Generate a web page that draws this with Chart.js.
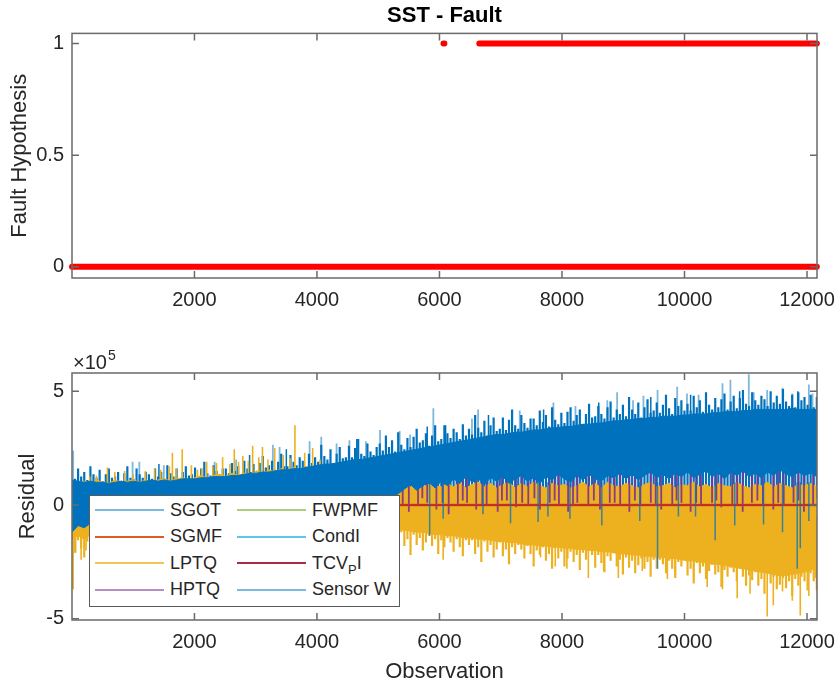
<!DOCTYPE html>
<html>
<head>
<meta charset="utf-8">
<title>SST - Fault</title>
<script src="https://cdn.jsdelivr.net/npm/chart.js@4.4.1/dist/chart.umd.min.js"></script>
<style>
  body { margin: 0; background: #fff; }
  #page { position: relative; width: 839px; height: 690px; font-family: "Liberation Sans", Arial, sans-serif; }
  #faultChart { position: absolute; left: 0; top: 0; }
  #residualChart { position: absolute; left: 0; top: 320px; }
  #legend { position: absolute; left: 89px; top: 495px; width: 311px; height: 112px; background: #fff;
            border: 1.5px solid #5a5a5a; box-sizing: border-box; }
  .item { position: absolute; height: 26px; display: flex; align-items: center; font-size: 18px; color: #262626; white-space: nowrap; }
  .swatch { width: 69px; height: 2px; margin-right: 6px; }
  .item sub { font-size: 13px; vertical-align: -5px; line-height: 0; }
</style>
</head>
<body>
<div id="page">
  <canvas id="faultChart" width="839" height="320"></canvas>
  <canvas id="residualChart" width="839" height="370"></canvas>
  <div id="legend"></div>
</div>
<script>
const xTicks = [2000, 4000, 6000, 8000, 10000, 12000];
const faultTicks = [0, 0.5, 1];
const residualTicks = [-5, 0, 5];
const residualExponent = 5;
const lastObs = 12160;

// fault hypothesis, as runs of constant value
const faultRunStart = [1, 6065, 6650];
const faultRunEnd = [12160, 6080, 12160];
const faultRunValue = [0, 1, 1];

const seriesNames = ['SGOT', 'SGMF', 'LPTQ', 'HPTQ', 'FWPMF', 'CondI', 'TCV_PI', 'Sensor W'];
const seriesColors = ['#0072BD', '#D95319', '#EDB120', '#7E2F8E', '#77AC30', '#4DBEEE', '#A2142F', '#0072BD'];
const legendAlpha = [0.5, 0.95, 0.75, 0.55, 0.6, 0.9, 0.9, 0.5];

// residuals in units of 1e5
// solid band edges, sampled evenly over 0..lastObs (122 samples)
const sensorWUpper = [
  1.1, 1.05, 1.0, 1.05, 1.0, 1.0, 0.95, 1.0, 1.05, 1.0,
  1.05, 1.0, 1.05, 1.1, 1.05, 1.1, 1.05, 1.1, 1.15, 1.15,
  1.15, 1.2, 1.2, 1.25, 1.25, 1.25, 1.3, 1.3, 1.35, 1.4,
  1.4, 1.45, 1.45, 1.5, 1.55, 1.55, 1.6, 1.6, 1.65, 1.7,
  1.75, 1.8, 1.8, 1.85, 1.9, 1.95, 2.0, 2.0, 2.05, 2.1,
  2.15, 2.2, 2.25, 2.3, 2.35, 2.4, 2.45, 2.5, 2.55, 2.6,
  2.65, 2.7, 2.75, 2.8, 2.85, 2.9, 2.95, 3.0, 3.05, 3.1,
  3.1, 3.15, 3.2, 3.2, 3.25, 3.3, 3.3, 3.35, 3.4, 3.4,
  3.45, 3.45, 3.5, 3.55, 3.55, 3.6, 3.6, 3.65, 3.7, 3.7,
  3.75, 3.75, 3.8, 3.8, 3.85, 3.85, 3.9, 3.9, 3.9, 3.95,
  3.95, 4.0, 4.0, 4.0, 4.05, 4.05, 4.1, 4.1, 4.1, 4.15,
  4.15, 4.2, 4.2, 4.2, 4.2, 4.2, 4.2, 4.25, 4.2, 4.2,
  4.2, 4.2
];
const sensorWLower = [
  -1.2, -0.9, -1.0, -0.8, -0.2, 0.1, -0.1, 0.2, -0.2, 0.1,
  -0.1, 0.2, 0.0, -0.2, 0.1, 0.0, 0.2, -0.1, 0.1, 0.0,
  0.2, -0.1, 0.1, 0.2, 0.0, 0.1, -0.1, 0.2, 0.0, 0.1,
  0.2, 0.0, 0.1, 0.2, -0.1, 0.1, 0.2, 0.0, 0.1, 0.2,
  0.0, 0.2, 0.1, 0.0, 0.2, 0.1, 0.2, 0.0, 0.1, 0.2,
  0.2, 0.3, 0.4, 0.5, 0.7, 0.9, 0.65, 0.85, 1.0, 0.75,
  1.05, 0.85, 1.15, 0.95, 1.25, 1.0, 1.15, 0.9, 1.2, 1.05,
  1.25, 0.95, 1.15, 1.3, 1.05, 1.2, 0.95, 1.25, 1.1, 1.35,
  1.15, 1.0, 1.3, 1.1, 1.35, 1.15, 1.05, 1.3, 1.2, 1.4,
  1.15, 1.35, 1.1, 1.3, 1.45, 1.2, 1.35, 1.15, 1.4, 1.25,
  1.45, 1.2, 1.35, 1.5, 1.25, 1.4, 1.15, 1.45, 1.3, 1.5,
  1.25, 1.4, 1.2, 1.45, 1.3, 1.55, 1.35, 1.25, 1.45, 1.3,
  1.4, 1.25
];
const lptqUpper = [
  0.9, 1.0, 1.05, 0.95, 1.1, 1.0, 0.95, 1.1, 1.0, 1.05,
  1.1, 1.0, 1.1, 1.0, 1.1, 1.15, 1.05, 1.15, 1.2, 1.1,
  1.2, 1.3, 1.15, 1.3, 1.35, 1.25, 1.4, 1.3, 1.4, 1.35,
  1.5, 1.4, 1.55, 1.45, 1.6, 1.5, 1.65, 1.55, 1.7, 1.6,
  1.7, 1.75, 1.7, 1.8, 1.85, 1.75, 1.9, 1.8, 1.7, 1.5,
  1.2, 1.0, 0.95, 0.85, 0.9, 0.8, 0.95, 0.8, 0.9, 0.85,
  0.8, 0.95, 0.8, 1.0, 0.75, 0.9, 1.0, 0.8, 0.95, 0.75,
  0.9, 1.0, 0.75, 0.95, 0.8, 1.0, 0.85, 0.75, 0.95, 0.85,
  0.9, 0.75, 0.85, 1.0, 0.8, 0.95, 0.75, 1.0, 0.85, 0.8,
  0.95, 0.85, 0.75, 0.9, 1.0, 0.8, 0.85, 0.95, 0.75, 0.9,
  0.85, 1.0, 0.8, 0.9, 0.75, 0.95, 0.85, 0.8, 1.0, 0.85,
  0.75, 0.9, 0.85, 1.0, 0.8, 0.95, 0.85, 0.75, 0.9, 0.85,
  0.95, 0.8
];
const lptqLower = [
  -1.5, -1.35, -1.5, -1.3, -1.3, -1.3, -1.3, -1.3, -1.3, -1.3,
  -1.3, -1.3, -1.3, -1.3, -1.3, -1.3, -1.3, -1.3, -1.3, -1.3,
  -1.3, -1.3, -1.3, -1.3, -1.3, -1.3, -1.3, -1.3, -1.3, -1.3,
  -1.3, -1.3, -1.3, -1.3, -1.3, -1.3, -1.3, -1.3, -1.3, -1.3,
  -1.3, -1.3, -1.3, -1.3, -1.3, -1.3, -1.3, -1.3, -1.3, -1.3,
  -1.3, -1.2, -1.15, -1.1, -1.1, -1.15, -1.2, -1.2, -1.25, -1.3,
  -1.3, -1.35, -1.35, -1.4, -1.45, -1.45, -1.5, -1.5, -1.55, -1.6,
  -1.6, -1.65, -1.65, -1.7, -1.75, -1.75, -1.8, -1.8, -1.85, -1.85,
  -1.9, -1.9, -1.95, -1.95, -2.0, -2.0, -2.05, -2.05, -2.1, -2.15,
  -2.15, -2.2, -2.2, -2.25, -2.25, -2.3, -2.3, -2.35, -2.35, -2.4,
  -2.45, -2.45, -2.5, -2.55, -2.6, -2.6, -2.65, -2.7, -2.75, -2.8,
  -2.85, -2.9, -2.95, -3.0, -3.05, -3.1, -3.1, -3.05, -3.0, -2.95,
  -2.85, -2.8
];

// tips of the noise hair, sampled evenly over 0..lastObs (243 samples)
const sensorWPeaks = [
  1.35, 1.15, 1.6, 1.25, 1.45, 1.1, 1.7, 1.35, 1.2, 1.55,
  1.05, 1.35, 1.6, 1.2, 1.25, 1.45, 1.05, 1.4, 1.7, 1.2,
  1.15, 1.6, 1.35, 1.2, 1.45, 1.35, 1.15, 1.6, 1.25, 1.45,
  1.15, 1.75, 1.4, 1.25, 1.6, 1.15, 1.45, 1.7, 1.3, 1.35,
  1.65, 1.25, 1.6, 1.9, 1.4, 1.3, 1.75, 1.5, 1.35, 1.6,
  1.6, 1.4, 1.85, 1.5, 1.7, 1.35, 1.95, 1.6, 1.45, 1.8,
  1.5, 1.85, 2.15, 1.65, 1.75, 1.95, 1.55, 1.9, 2.25, 1.7,
  1.7, 2.2, 1.9, 1.75, 2.1, 1.95, 1.7, 2.25, 1.85, 2.1,
  1.9, 2.65, 2.15, 2.0, 2.45, 1.85, 2.25, 2.55, 2.05, 2.1,
  2.6, 2.1, 2.5, 2.9, 2.25, 2.15, 2.7, 2.35, 2.2, 2.55,
  2.7, 2.4, 3.05, 2.55, 2.85, 2.35, 3.2, 2.65, 2.45, 2.95,
  2.55, 3.0, 3.35, 2.75, 2.85, 3.15, 2.6, 3.05, 3.5, 2.8,
  2.9, 3.5, 3.15, 2.95, 3.35, 3.2, 2.9, 3.55, 3.05, 3.35,
  3.1, 3.95, 3.4, 3.2, 3.7, 3.05, 3.5, 3.85, 3.25, 3.35,
  3.85, 3.3, 3.75, 4.2, 3.5, 3.35, 3.95, 3.6, 3.4, 3.8,
  3.8, 3.5, 4.15, 3.65, 3.95, 3.45, 4.3, 3.75, 3.55, 4.05,
  3.6, 4.1, 4.3, 3.7, 3.95, 4.2, 3.55, 4.0, 4.45, 3.85,
  3.9, 4.35, 4.0, 3.8, 4.3, 4.55, 3.85, 4.2, 4.0, 4.4,
  3.9, 4.75, 4.2, 4.0, 4.5, 3.85, 4.3, 4.65, 4.05, 4.15,
  4.5, 4.05, 4.4, 4.85, 4.25, 4.0, 4.7, 4.35, 4.6, 4.15,
  4.45, 4.15, 4.8, 4.3, 4.6, 4.1, 4.95, 4.4, 4.2, 4.7,
  4.3, 4.65, 4.9, 4.2, 4.55, 4.8, 4.25, 4.7, 5.05, 4.45,
  4.35, 4.95, 4.6, 4.4, 4.8, 4.65, 4.35, 5.0, 4.5, 4.8,
  4.45, 5.1, 4.55, 4.35, 4.85, 4.3, 4.95, 4.6, 4.75, 4.4,
  4.85, 4.3, 4.75
];
const lptqTroughs = [
  -1.7, -2.1, -1.55, -1.9, -2.3, -1.6, -1.8, -1.45, -2.05, -1.75,
  -1.8, -2.0, -1.7, -1.9, -2.1, -1.8, -1.9, -1.7, -2.0, -1.8,
  -1.8, -2.0, -1.7, -1.9, -2.1, -1.8, -1.9, -1.7, -2.0, -1.8,
  -1.8, -2.0, -1.7, -1.9, -2.1, -1.8, -1.9, -1.7, -2.0, -1.8,
  -1.8, -2.0, -1.7, -1.9, -2.1, -1.8, -1.9, -1.7, -2.0, -1.8,
  -1.8, -2.0, -1.7, -1.9, -2.1, -1.8, -1.9, -1.7, -2.0, -1.8,
  -1.8, -2.0, -1.7, -1.9, -2.1, -1.8, -1.9, -1.7, -2.0, -1.8,
  -1.8, -2.0, -1.7, -1.9, -2.1, -1.8, -1.9, -1.7, -2.0, -1.8,
  -1.8, -2.0, -1.7, -1.9, -2.1, -1.8, -1.9, -1.7, -2.0, -1.8,
  -1.8, -2.0, -1.7, -1.9, -2.1, -1.8, -1.9, -1.7, -2.0, -1.8,
  -1.45, -1.85, -1.3, -1.65, -2.05, -1.35, -1.55, -1.2, -1.8, -1.5,
  -2.2, -1.3, -1.75, -1.45, -2.0, -1.65, -1.35, -1.8, -1.5, -2.15,
  -1.55, -1.85, -1.45, -1.65, -2.05, -1.5, -1.85, -2.25, -1.55, -1.75,
  -1.55, -2.15, -1.85, -2.5, -1.6, -2.05, -1.75, -2.3, -1.95, -1.65,
  -2.25, -1.95, -2.6, -1.85, -2.15, -1.75, -1.95, -2.35, -1.8, -2.15,
  -2.7, -2.0, -2.2, -1.85, -2.45, -2.15, -2.8, -1.9, -2.35, -2.05,
  -2.7, -2.35, -2.05, -2.5, -2.2, -2.85, -2.1, -2.4, -2.0, -2.2,
  -2.75, -2.2, -2.55, -2.95, -2.25, -2.45, -2.1, -2.7, -2.4, -3.05,
  -2.3, -2.75, -2.45, -3.0, -2.65, -2.35, -2.8, -2.5, -3.15, -2.4,
  -2.8, -2.4, -2.6, -3.0, -2.45, -2.8, -3.2, -2.5, -2.7, -2.35,
  -3.1, -2.8, -3.45, -2.55, -3.0, -2.7, -3.25, -2.9, -2.6, -3.05,
  -2.95, -3.6, -2.85, -3.15, -2.75, -2.95, -3.35, -2.8, -3.15, -3.55,
  -3.1, -3.3, -2.95, -3.55, -3.25, -3.9, -3.0, -3.45, -3.15, -3.7,
  -3.5, -3.2, -3.65, -3.35, -4.0, -3.25, -3.55, -3.15, -3.35, -3.75,
  -3.0, -3.35, -3.75
];

// single spikes: [observation, from, to]
const sgotSpikesUp = [
  [20, 1.0, 2.4], [990, 1.0, 1.9], [1100, 1.0, 1.9], [1500, 1.0, 1.75], [2330, 1.0, 1.9],
  [2680, 1.0, 2.0], [3280, 1.0, 2.65], [3390, 1.0, 2.55], [3880, 1.0, 2.8], [4070, 1.0, 3.0],
  [4320, 1.0, 2.7], [4530, 1.0, 2.85], [4800, 1.0, 2.8], [5030, 2.0, 3.3], [5350, 2.0, 3.25],
  [5520, 2.0, 3.1], [5900, 2.0, 4.25], [6530, 2.0, 3.8], [6630, 2.0, 4.2], [7310, 2.0, 4.15],
  [7860, 2.0, 4.5], [8220, 2.0, 4.35], [8740, 2.0, 4.6], [8900, 2.0, 4.95], [9160, 2.0, 4.6],
  [9330, 2.0, 4.8], [9560, 2.0, 5.05], [9880, 2.0, 5.2], [10040, 2.0, 4.9], [10230, 2.0, 4.85],
  [10620, 2.0, 5.35], [10750, 2.0, 5.5], [11050, 2.0, 5.75], [11130, 2.0, 4.95], [11350, 2.0, 5.05],
  [11600, 2.0, 5.15], [11760, 2.0, 4.9], [12030, 2.0, 5.3], [12090, 2.0, 4.9]
];
const sensorWSpikesUp = [
  [1420, 0.5, 1.8], [2900, 0.5, 2.2], [3500, 0.5, 2.45], [4650, 1.0, 2.9], [5800, 2.0, 3.45],
  [6100, 2.0, 3.5], [6800, 2.0, 3.95], [7700, 2.0, 4.2], [8600, 2.0, 4.5], [9450, 2.0, 4.75],
  [10100, 2.0, 4.85], [10900, 2.0, 5.0], [11850, 2.0, 5.0]
];
const lptqSpikesUp = [
  [290, 0.5, 1.25], [400, 0.5, 1.3], [580, 0.5, 1.65], [700, 0.5, 1.45], [860, 0.5, 1.5],
  [1000, 0.5, 1.35], [1200, 0.5, 1.5], [1350, 0.5, 1.6], [1450, 0.5, 1.55], [1590, 0.5, 1.7],
  [1640, 0.5, 2.3], [1700, 0.5, 1.6], [1800, 0.5, 2.45], [1950, 0.5, 1.75], [2050, 0.5, 1.55],
  [2120, 0.5, 1.6], [2200, 0.5, 1.9], [2300, 0.5, 1.7], [2360, 0.5, 1.85], [2460, 0.5, 2.1],
  [2580, 0.5, 1.8], [2650, 0.5, 2.45], [2720, 0.5, 1.9], [2790, 0.5, 2.15], [2880, 0.5, 1.95],
  [2950, 0.5, 2.6], [3050, 0.5, 2.1], [3110, 0.5, 2.55], [3200, 0.5, 2.0], [3310, 0.5, 2.5],
  [3450, 0.5, 2.2], [3560, 0.5, 2.05], [3640, 0.5, 3.5], [3800, 0.5, 2.3], [3930, 0.5, 2.5],
  [4050, 0.5, 2.0]
];
const lptqSpikesDown = [
  [20, -1.0, -3.7], [60, -1.0, -2.1], [150, -1.0, -2.4], [230, -1.0, -2.0],
  [6060, -1.0, -2.4], [6580, -1.0, -2.0], [7130, -1.0, -2.4], [7650, -1.0, -2.3], [7890, -1.0, -2.7],
  [8080, -1.0, -2.8], [8430, -1.0, -3.2], [8680, -1.0, -2.9], [8920, -1.0, -3.2], [9310, -1.0, -2.9],
  [9720, -1.0, -3.25], [9850, -1.0, -3.1], [10150, -1.0, -3.3], [10370, -1.0, -3.6], [10620, -1.0, -3.7],
  [10860, -1.0, -4.1], [11070, -1.0, -3.9], [11350, -1.0, -4.9], [11450, -1.0, -4.4], [11600, -1.0, -3.8],
  [11760, -1.0, -4.2], [11890, -1.0, -4.85], [12030, -1.0, -4.0], [12140, -1.0, -3.2]
];
const hptqSpikes = [
  [4600, 0.2, 1.0], [4850, 0.0, 1.1], [5100, -0.2, 1.2], [5200, 0.2, 0.9], [5300, 0.1, 1.3],
  [5400, 0.0, 1.1], [5500, -0.3, 1.5], [5650, 0.0, 1.6], [5720, 0.3, 1.2], [5800, 0.1, 1.4],
  [5950, -0.2, 1.7], [6050, 0.1, 1.1], [6150, -0.4, 1.5], [6300, 0.0, 1.7], [6380, 0.2, 1.25],
  [6450, 0.1, 1.6], [6600, -0.2, 1.8], [6700, 0.0, 1.3], [6770, 0.0, 1.95], [6950, -0.3, 1.6],
  [7020, 0.2, 1.2], [7100, 0.2, 1.7], [7250, -0.1, 1.85], [7350, 0.1, 1.35], [7450, 0.0, 1.9],
  [7550, 0.3, 1.3], [7640, -0.2, 1.6], [7800, 0.1, 1.75], [7880, 0.2, 1.4], [7950, 0.0, 2.0],
  [8100, -0.3, 1.7], [8180, 0.0, 1.35], [8250, 0.1, 1.85], [8430, 0.0, 1.65], [8520, 0.2, 1.45],
  [8620, -0.2, 1.9], [8780, 0.1, 1.7], [8860, 0.1, 1.3], [8950, 0.0, 1.8], [9100, -0.3, 2.0],
  [9190, 0.2, 1.5], [9280, 0.0, 1.75], [9450, 0.1, 1.9], [9530, 0.0, 1.4], [9620, -0.2, 1.7],
  [9800, 0.0, 2.05], [9870, 0.2, 1.55], [9950, 0.1, 1.8], [10100, -0.3, 1.95], [10190, 0.1, 1.45],
  [10270, 0.0, 1.75], [10450, 0.1, 2.0], [10520, 0.2, 1.6], [10600, -0.1, 1.8], [10780, 0.0, 1.95],
  [10860, 0.0, 1.5], [10950, -0.3, 2.1], [11100, 0.1, 1.85], [11190, 0.2, 1.55], [11280, 0.0, 2.0],
  [11450, -0.2, 1.8], [11530, 0.1, 1.6], [11620, 0.0, 2.05], [11780, 0.1, 1.9], [11860, 0.2, 1.5],
  [11950, -0.3, 2.1], [12100, 0.0, 1.85]
];
const sgotSpikesDown = [
  [5840, 1.0, -1.35], [6060, 1.0, -0.6], [6710, 1.0, -0.4], [7160, 1.0, -0.8], [7610, 1.0, -0.75],
  [7770, 1.0, -0.5], [8130, 1.0, -0.6], [8650, 1.0, -0.9], [9270, 1.0, -0.7], [9560, 1.0, -2.8],
  [9900, 1.0, -0.5], [10180, 1.0, -0.5], [10500, 1.0, -1.55], [10820, 1.0, -0.9], [11290, 1.0, -0.85],
  [11600, 1.0, -1.2], [11840, 1.0, -2.8], [11890, 1.0, -1.9], [12030, 1.0, -0.7]
];
// flat residuals
const flatObs = [1, 12160];
const sgmfResidual = [0, 0];
const fwpmfResidual = [0, 0];
const condIResidual = [0, 0];
const tcvpiResidual = [0, 0];

const fontFamily = '"Liberation Sans", Arial, sans-serif';
const textColor = '#262626';

function runsToPoints(starts, ends, values) {
  const pts = [];
  starts.forEach((s, i) => {
    pts.push({ x: s, y: values[i] }, { x: ends[i], y: values[i] }, { x: ends[i], y: null });
  });
  return pts;
}

function bandPoints(values) {
  const step = lastObs / (values.length - 1);
  return values.map((v, i) => ({ x: i * step, y: v }));
}

// vertical hair from a base level to each sampled tip
function hairPoints(values, base) {
  const step = lastObs / (values.length - 1);
  const pts = [];
  values.forEach((v, i) => {
    pts.push({ x: i * step, y: base }, { x: i * step, y: v }, { x: i * step, y: null });
  });
  return pts;
}

function spikePoints(list) {
  const pts = [];
  list.forEach(s => {
    pts.push({ x: s[0], y: s[1] }, { x: s[0], y: s[2] }, { x: s[0], y: null });
  });
  return pts;
}

function flatPoints(values) {
  return flatObs.map((x, i) => ({ x: x, y: values[i] }));
}

function lineSet(label, data, color, width, order, extra) {
  return Object.assign({
    type: 'line', label: label, data: data, borderColor: color, backgroundColor: color,
    borderWidth: width, pointRadius: 0, tension: 0, fill: false, order: order, spanGaps: false
  }, extra || {});
}

// box and inward tick marks, as MATLAB draws them
const matlabAxes = {
  id: 'matlabAxes',
  afterDraw(chart) {
    const { ctx, chartArea: a, scales } = chart;
    ctx.save();
    ctx.strokeStyle = '#6a6a6a';
    ctx.lineWidth = 1.5;
    ctx.strokeRect(a.left, a.top, a.right - a.left, a.bottom - a.top);
    ctx.beginPath();
    scales.x.ticks.forEach(t => {
      const px = scales.x.getPixelForValue(t.value);
      ctx.moveTo(px, a.bottom); ctx.lineTo(px, a.bottom - 7);
      ctx.moveTo(px, a.top); ctx.lineTo(px, a.top + 7);
    });
    scales.y.ticks.forEach(t => {
      const py = scales.y.getPixelForValue(t.value);
      ctx.moveTo(a.left, py); ctx.lineTo(a.left + 7, py);
      ctx.moveTo(a.right, py); ctx.lineTo(a.right - 7, py);
    });
    ctx.stroke();
    ctx.restore();
  }
};

const exponentLabel = {
  id: 'exponentLabel',
  afterDraw(chart) {
    const { ctx, chartArea: a } = chart;
    ctx.save();
    ctx.fillStyle = textColor;
    ctx.textBaseline = 'alphabetic';
    ctx.font = '20px ' + fontFamily;
    ctx.fillText('\u00d710', a.left + 1, a.top - 4);
    const w = ctx.measureText('\u00d710').width;
    ctx.font = '14px ' + fontFamily;
    ctx.fillText(String(residualExponent), a.left + 2 + w, a.top - 13);
    ctx.restore();
  }
};

function xScale(height, title) {
  return {
    type: 'linear', min: 1, max: 12163,
    afterBuildTicks: s => { s.ticks = xTicks.map(v => ({ value: v })); },
    afterFit: s => { s.height = height; s.paddingLeft = 0; s.paddingRight = 0; },
    grid: { display: false, drawTicks: false },
    border: { display: false },
    ticks: { color: textColor, font: { family: fontFamily, size: 20 }, padding: 10, maxRotation: 0, autoSkip: false,
             callback: v => String(v) },
    title: title
  };
}

function yScale(min, max, ticks, titleText, titlePad) {
  return {
    type: 'linear', min: min, max: max,
    afterBuildTicks: s => { s.ticks = ticks.map(v => ({ value: v })); },
    afterFit: s => { s.width = 72; s.paddingTop = 0; s.paddingBottom = 0; },
    grid: { display: false, drawTicks: false },
    border: { display: false },
    ticks: { color: textColor, font: { family: fontFamily, size: 20 }, padding: 8, callback: v => String(v) },
    title: { display: true, text: titleText, color: textColor, font: { family: fontFamily, size: 22 }, padding: { top: titlePad } }
  };
}

new Chart(document.getElementById('faultChart'), {
  type: 'line',
  data: {
    datasets: [lineSet('Fault', runsToPoints(faultRunStart, faultRunEnd, faultRunValue), '#ff0000', 6, 1,
      { borderCapStyle: 'round', borderJoinStyle: 'round', clip: false })]
  },
  options: {
    responsive: false, animation: false, events: [],
    layout: { padding: { left: 0, right: 22, top: 0, bottom: 0 } },
    plugins: {
      legend: { display: false }, tooltip: { enabled: false },
      title: { display: true, text: 'SST - Fault', fullSize: false, color: '#000',
               font: { family: fontFamily, size: 22, weight: 'bold' }, padding: { top: 3, bottom: 4 } }
    },
    scales: {
      x: xScale(42, { display: false }),
      y: yScale(-0.05, 1.045, faultTicks, 'Fault Hypothesis', 7)
    }
  },
  plugins: [matlabAxes]
});

const blue = seriesColors[7];
const yellow = seriesColors[2];
new Chart(document.getElementById('residualChart'), {
  type: 'line',
  data: {
    datasets: [
      lineSet('FWPMF', flatPoints(fwpmfResidual), seriesColors[4], 1.5, 95),
      lineSet('CondI', flatPoints(condIResidual), seriesColors[5], 1.5, 94),
      lineSet('SGOT', spikePoints(sgotSpikesUp), 'rgba(0,114,189,0.5)', 1.8, 90),
      lineSet('Sensor W', hairPoints(sensorWPeaks, 0.3), blue, 2.2, 86),
      lineSet('Sensor W', spikePoints(sensorWSpikesUp), blue, 1.5, 85),
      lineSet('LPTQ', spikePoints(lptqSpikesUp), yellow, 1.6, 78),
      lineSet('LPTQ', hairPoints(lptqTroughs, -0.5), yellow, 2.2, 75),
      lineSet('LPTQ', bandPoints(lptqUpper), yellow, 1, 60, { fill: '+1' }),
      lineSet('LPTQ', bandPoints(lptqLower), yellow, 1, 60),
      lineSet('LPTQ', spikePoints(lptqSpikesDown), yellow, 1.6, 59),
      lineSet('HPTQ', spikePoints(hptqSpikes), 'rgba(126,47,142,0.9)', 1.8, 50),
      lineSet('SGMF', flatPoints(sgmfResidual), seriesColors[1], 2.5, 41),
      lineSet('TCV_PI', flatPoints(tcvpiResidual), seriesColors[6], 1, 40),
      lineSet('SGOT', spikePoints(sgotSpikesDown), 'rgba(0,114,189,0.75)', 1.5, 35),
      lineSet('Sensor W', bandPoints(sensorWUpper), blue, 1, 30, { fill: '+1' }),
      lineSet('Sensor W', bandPoints(sensorWLower), blue, 1, 30)
    ]
  },
  options: {
    responsive: false, animation: false, events: [],
    layout: { padding: { left: 0, right: 22, top: 53, bottom: 0 } },
    plugins: { legend: { display: false }, tooltip: { enabled: false } },
    scales: {
      x: xScale(70, { display: true, text: 'Observation', color: textColor,
                      font: { family: fontFamily, size: 22 }, padding: { top: 0, bottom: 5 } }),
      y: yScale(-5.05, 5.8, residualTicks, 'Residual', 15)
    }
  },
  plugins: [matlabAxes, exponentLabel]
});

// legend in two columns, filled column by column as MATLAB does
const legend = document.getElementById('legend');
seriesNames.forEach((name, i) => {
  const item = document.createElement('div');
  item.className = 'item';
  item.style.left = (5 + Math.floor(i / 4) * 142) + 'px';
  item.style.top = (1 + (i % 4) * 26.5) + 'px';
  const swatch = document.createElement('span');
  swatch.className = 'swatch';
  swatch.style.background = seriesColors[i];
  swatch.style.opacity = legendAlpha[i];
  const text = document.createElement('span');
  text.innerHTML = name.replace(/_(\w)/, '<sub>$1</sub>');
  item.appendChild(swatch);
  item.appendChild(text);
  legend.appendChild(item);
});
</script>
</body>
</html>
